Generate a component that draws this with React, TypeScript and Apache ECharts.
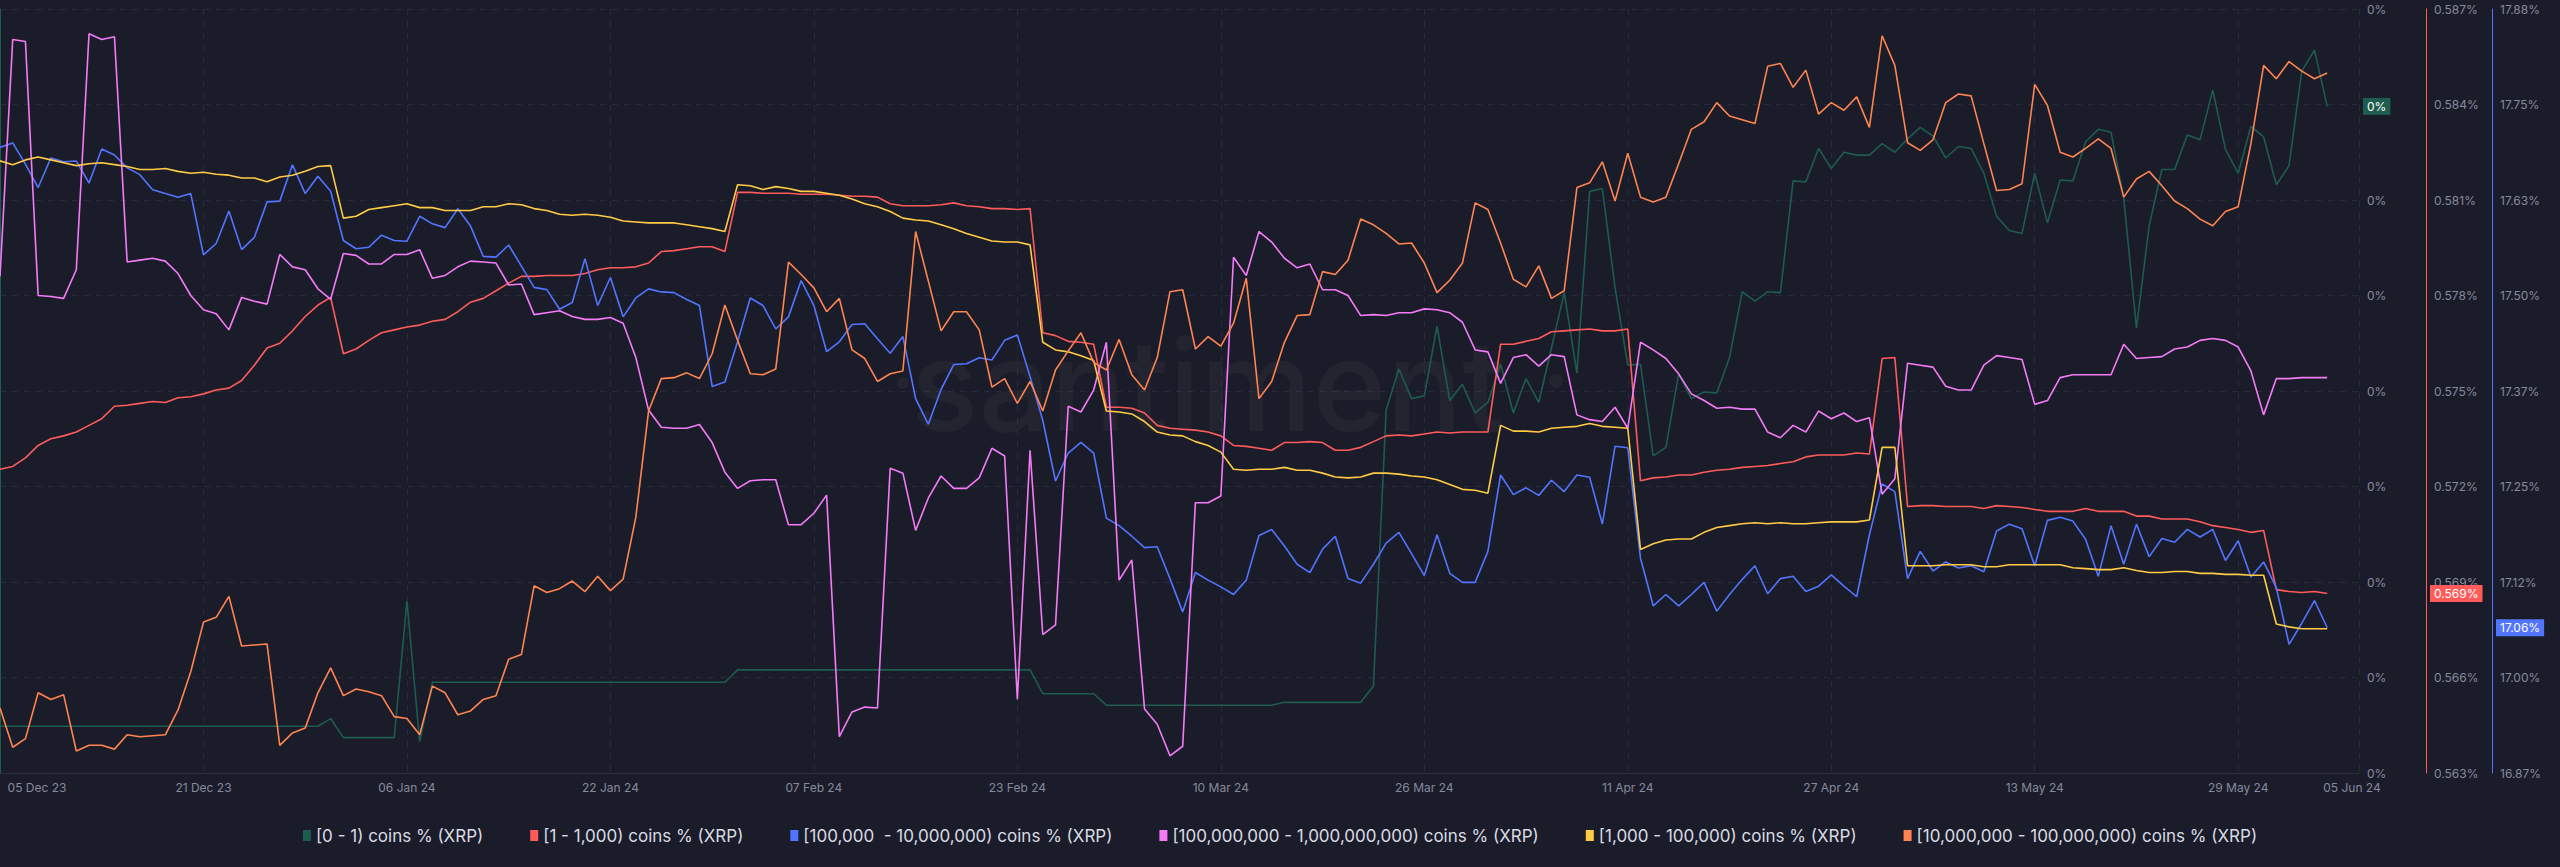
import React, { useEffect, useRef } from "react";
import * as echarts from "echarts";

// ---------- data (one point per day, 05 Dec 23 .. 05 Jun 24) ----------
const tickLabels = ["05 Dec 23", "21 Dec 23", "06 Jan 24", "22 Jan 24", "07 Feb 24", "23 Feb 24", "10 Mar 24", "26 Mar 24", "11 Apr 24", "27 Apr 24", "13 May 24", "29 May 24", "05 Jun 24"];
const tickDays = [0, 16, 32, 48, 64, 80, 96, 112, 128, 144, 160, 176, 183];
const LAST_DAY = 183;

const seriesNames = [
  "[0 - 1) coins % (XRP)",
  "[1 - 1,000) coins % (XRP)",
  "[100,000  - 10,000,000) coins % (XRP)",
  "[100,000,000 - 1,000,000,000) coins % (XRP)",
  "[1,000 - 100,000) coins % (XRP)",
  "[10,000,000 - 100,000,000) coins % (XRP)",
];

const coins0to1 = [
  0.0049, 0.0049, 0.0049, 0.0049, 0.0049, 0.0049, 0.0049, 0.0049,
  0.0049, 0.0049, 0.0049, 0.0049, 0.0049, 0.0049, 0.0049, 0.0049,
  0.0049, 0.0049, 0.0049, 0.0049, 0.0049, 0.0049, 0.0049, 0.0049,
  0.0049, 0.0049, 0.0057, 0.0037, 0.0037, 0.0037, 0.0037, 0.0037,
  0.0180, 0.0033, 0.0095, 0.0095, 0.0095, 0.0095, 0.0095, 0.0095,
  0.0095, 0.0095, 0.0095, 0.0095, 0.0095, 0.0095, 0.0095, 0.0095,
  0.0095, 0.0095, 0.0095, 0.0095, 0.0095, 0.0095, 0.0095, 0.0095,
  0.0095, 0.0095, 0.0108, 0.0108, 0.0108, 0.0108, 0.0108, 0.0108,
  0.0108, 0.0108, 0.0108, 0.0108, 0.0108, 0.0108, 0.0108, 0.0108,
  0.0108, 0.0108, 0.0108, 0.0108, 0.0108, 0.0108, 0.0108, 0.0108,
  0.0108, 0.0108, 0.0083, 0.0083, 0.0083, 0.0083, 0.0083, 0.0071,
  0.0071, 0.0071, 0.0071, 0.0071, 0.0071, 0.0071, 0.0071, 0.0071,
  0.0071, 0.0071, 0.0071, 0.0071, 0.0071, 0.0074, 0.0074, 0.0074,
  0.0074, 0.0074, 0.0074, 0.0074, 0.0091, 0.0380, 0.0423, 0.0392,
  0.0395, 0.0468, 0.0390, 0.0407, 0.0377, 0.0388, 0.0428, 0.0377,
  0.0413, 0.0388, 0.0445, 0.0503, 0.0419, 0.0609, 0.0612, 0.0508,
  0.0427, 0.0428, 0.0332, 0.0341, 0.0418, 0.0392, 0.0399, 0.0398,
  0.0435, 0.0504, 0.0494, 0.0504, 0.0503, 0.0620, 0.0619, 0.0654,
  0.0633, 0.0650, 0.0647, 0.0647, 0.0659, 0.0650, 0.0664, 0.0676,
  0.0667, 0.0644, 0.0656, 0.0654, 0.0628, 0.0583, 0.0568, 0.0565,
  0.0628, 0.0576, 0.0621, 0.0620, 0.0661, 0.0674, 0.0671, 0.0602,
  0.0466, 0.0573, 0.0632, 0.0632, 0.0668, 0.0663, 0.0715, 0.0653,
  0.0628, 0.0677, 0.0666, 0.0616, 0.0636, 0.0735, 0.0757, 0.0698,
];

const coins1to1k = [
  0.57254, 0.57263, 0.57290, 0.57329, 0.57350, 0.57359, 0.57371, 0.57392,
  0.57413, 0.57452, 0.57455, 0.57461, 0.57467, 0.57464, 0.57479, 0.57482,
  0.57491, 0.57503, 0.57509, 0.57533, 0.57581, 0.57635, 0.57650, 0.57689,
  0.57734, 0.57770, 0.57794, 0.57617, 0.57632, 0.57659, 0.57683, 0.57692,
  0.57701, 0.57707, 0.57719, 0.57725, 0.57749, 0.57779, 0.57791, 0.57815,
  0.57839, 0.57860, 0.57860, 0.57863, 0.57863, 0.57863, 0.57869, 0.57881,
  0.57887, 0.57887, 0.57890, 0.57902, 0.57938, 0.57941, 0.57947, 0.57953,
  0.57953, 0.57938, 0.58124, 0.58124, 0.58121, 0.58121, 0.58121, 0.58118,
  0.58118, 0.58118, 0.58115, 0.58112, 0.58112, 0.58109, 0.58088, 0.58082,
  0.58082, 0.58082, 0.58085, 0.58091, 0.58082, 0.58079, 0.58073, 0.58073,
  0.58070, 0.58073, 0.57683, 0.57674, 0.57656, 0.57653, 0.57647, 0.57449,
  0.57449, 0.57446, 0.57431, 0.57392, 0.57383, 0.57380, 0.57377, 0.57371,
  0.57359, 0.57329, 0.57326, 0.57320, 0.57314, 0.57338, 0.57338, 0.57341,
  0.57338, 0.57314, 0.57314, 0.57323, 0.57341, 0.57359, 0.57362, 0.57359,
  0.57365, 0.57371, 0.57368, 0.57371, 0.57371, 0.57371, 0.57647, 0.57647,
  0.57656, 0.57665, 0.57686, 0.57689, 0.57692, 0.57695, 0.57689, 0.57689,
  0.57695, 0.57218, 0.57227, 0.57230, 0.57236, 0.57236, 0.57245, 0.57251,
  0.57254, 0.57260, 0.57263, 0.57266, 0.57272, 0.57278, 0.57293, 0.57299,
  0.57299, 0.57299, 0.57305, 0.57302, 0.57602, 0.57605, 0.57137, 0.57140,
  0.57140, 0.57137, 0.57137, 0.57137, 0.57131, 0.57140, 0.57137, 0.57134,
  0.57128, 0.57122, 0.57122, 0.57122, 0.57131, 0.57122, 0.57122, 0.57122,
  0.57107, 0.57107, 0.57098, 0.57098, 0.57098, 0.57089, 0.57077, 0.57071,
  0.57065, 0.57056, 0.57062, 0.56876, 0.56870, 0.56867, 0.56870, 0.56864,
];

const coins100kto10m = [
  17.696, 17.702, 17.674, 17.643, 17.682, 17.677, 17.678, 17.649,
  17.694, 17.686, 17.669, 17.660, 17.640, 17.635, 17.630, 17.635,
  17.554, 17.569, 17.612, 17.561, 17.577, 17.624, 17.625, 17.673,
  17.635, 17.658, 17.638, 17.573, 17.562, 17.564, 17.580, 17.573,
  17.572, 17.605, 17.595, 17.590, 17.615, 17.592, 17.552, 17.551,
  17.567, 17.539, 17.511, 17.508, 17.482, 17.491, 17.549, 17.487,
  17.524, 17.472, 17.497, 17.509, 17.505, 17.504, 17.495, 17.487,
  17.380, 17.386, 17.439, 17.497, 17.487, 17.456, 17.472, 17.520,
  17.487, 17.426, 17.439, 17.462, 17.463, 17.443, 17.424, 17.446,
  17.364, 17.330, 17.376, 17.409, 17.410, 17.418, 17.415, 17.441,
  17.448, 17.393, 17.335, 17.255, 17.292, 17.306, 17.292, 17.206,
  17.196, 17.182, 17.167, 17.168, 17.126, 17.082, 17.134, 17.124,
  17.115, 17.105, 17.124, 17.183, 17.191, 17.169, 17.145, 17.134,
  17.165, 17.182, 17.126, 17.120, 17.145, 17.173, 17.187, 17.159,
  17.130, 17.184, 17.133, 17.121, 17.121, 17.162, 17.263, 17.237,
  17.246, 17.236, 17.256, 17.241, 17.263, 17.260, 17.198, 17.301,
  17.299, 17.153, 17.090, 17.105, 17.090, 17.105, 17.121, 17.083,
  17.105, 17.125, 17.143, 17.106, 17.126, 17.129, 17.109, 17.116,
  17.131, 17.116, 17.102, 17.184, 17.251, 17.241, 17.126, 17.162,
  17.136, 17.148, 17.140, 17.143, 17.135, 17.189, 17.198, 17.192,
  17.143, 17.203, 17.207, 17.202, 17.178, 17.129, 17.196, 17.145,
  17.198, 17.155, 17.179, 17.174, 17.191, 17.181, 17.191, 17.150,
  17.176, 17.128, 17.148, 17.114, 17.039, 17.067, 17.097, 17.061,
];

const coins100mto1b = [
  25.20, 27.68, 27.66, 25.00, 24.99, 24.97, 25.27, 27.74,
  27.68, 27.71, 25.35, 25.37, 25.39, 25.36, 25.23, 25.00,
  24.85, 24.81, 24.64, 24.98, 24.94, 24.91, 25.43, 25.30,
  25.27, 25.07, 24.96, 25.44, 25.42, 25.33, 25.33, 25.43,
  25.43, 25.48, 25.18, 25.21, 25.30, 25.36, 25.35, 25.34,
  25.11, 25.12, 24.80, 24.82, 24.84, 24.78, 24.75, 24.75,
  24.77, 24.71, 24.35, 23.80, 23.62, 23.61, 23.61, 23.65,
  23.46, 23.15, 22.98, 23.06, 23.07, 23.07, 22.60, 22.60,
  22.72, 22.91, 20.38, 20.64, 20.69, 20.68, 23.19, 23.14,
  22.54, 22.88, 23.11, 22.98, 22.98, 23.09, 23.40, 23.32,
  20.77, 23.38, 21.45, 21.55, 23.84, 23.78, 24.01, 24.51,
  22.02, 22.23, 20.67, 20.51, 20.18, 20.28, 22.83, 22.83,
  22.90, 25.40, 25.21, 25.67, 25.56, 25.39, 25.29, 25.33,
  25.06, 25.06, 25.00, 24.79, 24.80, 24.79, 24.82, 24.82,
  24.86, 24.85, 24.82, 24.72, 24.43, 24.41, 24.08, 24.35,
  24.38, 24.26, 24.38, 24.36, 23.75, 23.70, 23.68, 23.83,
  23.61, 24.51, 24.43, 24.34, 24.18, 23.97, 23.90, 23.82,
  23.83, 23.81, 23.81, 23.57, 23.51, 23.64, 23.57, 23.79,
  23.71, 23.77, 23.68, 23.72, 22.92, 23.08, 24.29, 24.27,
  24.25, 24.05, 24.01, 24.01, 24.27, 24.37, 24.35, 24.33,
  23.86, 23.90, 24.14, 24.17, 24.17, 24.17, 24.17, 24.49,
  24.34, 24.35, 24.36, 24.44, 24.46, 24.53, 24.55, 24.53,
  24.46, 24.21, 23.75, 24.13, 24.13, 24.14, 24.14, 24.14,
];

const coins1kto100k = [
  8.41, 8.37, 8.42, 8.45, 8.42, 8.39, 8.36, 8.38,
  8.39, 8.37, 8.35, 8.32, 8.32, 8.33, 8.30, 8.28,
  8.29, 8.27, 8.26, 8.23, 8.23, 8.19, 8.24, 8.26,
  8.30, 8.35, 8.36, 7.81, 7.83, 7.90, 7.92, 7.94,
  7.96, 7.92, 7.92, 7.89, 7.89, 7.89, 7.93, 7.93,
  7.96, 7.95, 7.91, 7.89, 7.85, 7.84, 7.85, 7.84,
  7.82, 7.78, 7.77, 7.76, 7.76, 7.76, 7.74, 7.72,
  7.70, 7.67, 8.16, 8.15, 8.11, 8.14, 8.12, 8.09,
  8.09, 8.07, 8.05, 8.01, 7.96, 7.93, 7.88, 7.81,
  7.79, 7.78, 7.74, 7.70, 7.65, 7.61, 7.57, 7.56,
  7.56, 7.53, 6.51, 6.43, 6.41, 6.37, 6.32, 5.79,
  5.78, 5.76, 5.68, 5.57, 5.54, 5.53, 5.47, 5.43,
  5.36, 5.18, 5.17, 5.18, 5.18, 5.20, 5.17, 5.17,
  5.14, 5.10, 5.09, 5.10, 5.14, 5.14, 5.13, 5.11,
  5.10, 5.07, 5.02, 4.97, 4.96, 4.93, 5.64, 5.58,
  5.58, 5.57, 5.61, 5.62, 5.63, 5.66, 5.63, 5.62,
  5.61, 4.34, 4.40, 4.44, 4.45, 4.45, 4.52, 4.57,
  4.59, 4.61, 4.62, 4.61, 4.62, 4.61, 4.61, 4.62,
  4.63, 4.63, 4.63, 4.65, 5.41, 5.41, 4.17, 4.17,
  4.17, 4.18, 4.18, 4.18, 4.16, 4.16, 4.18, 4.18,
  4.18, 4.18, 4.18, 4.15, 4.14, 4.13, 4.13, 4.15,
  4.12, 4.10, 4.10, 4.11, 4.11, 4.09, 4.09, 4.08,
  4.08, 4.07, 4.07, 3.56, 3.53, 3.51, 3.51, 3.51,
];

const coins10mto100m = [
  10.68, 10.27, 10.36, 10.84, 10.77, 10.82, 10.23, 10.29,
  10.29, 10.25, 10.40, 10.38, 10.39, 10.40, 10.66, 11.06,
  11.58, 11.63, 11.85, 11.33, 11.34, 11.35, 10.29, 10.42,
  10.47, 10.84, 11.10, 10.81, 10.88, 10.85, 10.81, 10.59,
  10.57, 10.40, 10.91, 10.84, 10.61, 10.65, 10.77, 10.81,
  11.19, 11.24, 11.96, 11.89, 11.93, 12.01, 11.90, 12.06,
  11.91, 12.03, 12.68, 13.79, 14.13, 14.14, 14.19, 14.13,
  14.39, 14.90, 14.53, 14.18, 14.17, 14.23, 15.35, 15.22,
  15.08, 14.83, 14.97, 14.43, 14.34, 14.10, 14.18, 14.21,
  15.67, 15.15, 14.63, 14.83, 14.83, 14.64, 14.04, 14.13,
  13.87, 14.10, 13.79, 14.22, 14.42, 14.61, 14.30, 14.22,
  14.54, 14.17, 14.01, 14.35, 15.04, 15.06, 14.44, 14.57,
  14.47, 14.71, 15.18, 13.92, 14.10, 14.51, 14.79, 14.80,
  15.25, 15.22, 15.37, 15.80, 15.74, 15.65, 15.54, 15.55,
  15.34, 15.03, 15.16, 15.34, 15.97, 15.90, 15.55, 15.17,
  15.09, 15.31, 14.97, 15.05, 16.13, 16.18, 16.40, 15.99,
  16.49, 16.03, 15.98, 16.03, 16.38, 16.74, 16.82, 17.02,
  16.88, 16.84, 16.80, 17.40, 17.43, 17.18, 17.36, 16.90,
  17.02, 16.94, 17.08, 16.76, 17.72, 17.41, 16.60, 16.52,
  16.63, 17.02, 17.11, 17.09, 16.59, 16.10, 16.11, 16.17,
  17.21, 16.99, 16.50, 16.45, 16.54, 16.64, 16.54, 16.03,
  16.22, 16.30, 16.15, 15.99, 15.91, 15.80, 15.73, 15.88,
  15.93, 16.59, 17.41, 17.27, 17.45, 17.35, 17.27, 17.33,
];

// ---------- styling ----------
const BG = "#1b1c29";
const GRID = "#272a3b";
const LABEL = "#858a9d";
const COLORS = ["#1d5c4e", "#ff5b5b", "#5275ff", "#f47bf7", "#ffcb47", "#ff8450"];
const FONT = "Inter, 'Noto Sans', sans-serif";

export default function App() {
  const ref = useRef<HTMLDivElement>(null);

  useEffect(() => {
    const el = ref.current;
    if (!el) return;
    const chart = echarts.init(el, null, { renderer: "svg" });

    const valueSets = [coins0to1, coins1to1k, coins100kto10m, coins100mto1b, coins1kto100k, coins10mto100m];

    const hiddenAxis = (min: number, max: number) => ({
      type: "value",
      show: false,
      min,
      max,
      splitLine: { show: false },
    });

    const visibleAxis = (offset: number, color: string, min: number, max: number, fmt: (v: number) => string, extra: any = {}) => ({
      type: "value",
      position: "right",
      offset,
      min,
      max,
      axisLine: { show: true, lineStyle: { color, width: 1 } },
      axisTick: { show: false },
      axisLabel: { color: LABEL, fontSize: 12, fontFamily: FONT, margin: 8, formatter: fmt },
      splitLine: { show: false },
      ...extra,
    });

    const option: any = {
      animation: false,
      backgroundColor: BG,
      textStyle: { fontFamily: FONT },
      grid: { left: 0, right: 201, top: 9, bottom: 94 },
      legend: {
        data: seriesNames,
        top: 822,
        left: "center",
        icon: "rect",
        itemWidth: 8,
        itemHeight: 11,
        itemGap: 47,
        selectedMode: false,
        textStyle: { color: "#d8dbe4", fontSize: 17, fontFamily: FONT },
      },
      xAxis: {
        type: "value",
        min: 0,
        max: 185.5,
        interval: 16,
        axisLine: { show: true, lineStyle: { color: "#2c2f42" } },
        axisTick: { show: false },
        splitLine: { show: true, lineStyle: { color: GRID, type: [6, 6] } },
        axisLabel: {
          color: LABEL,
          fontSize: 12,
          fontFamily: FONT,
          margin: 8,
          formatter: (v: number) => {
            const k = tickDays.indexOf(v);
            if (k === 0) return `{first|${tickLabels[0]}}`;
            if (k > 0 && tickDays[k] !== LAST_DAY) return tickLabels[k];
            return "";
          },
          rich: {
            first: { color: LABEL, fontSize: 12, fontFamily: FONT, padding: [0, 0, 0, 74] },
          },
        },
      },
      yAxis: [
        visibleAxis(0, COLORS[0], 0, 0.08, (v) => `${Math.round(v)}%`, {
          interval: 0.01,
          splitLine: { show: true, lineStyle: { color: GRID, type: [6, 6] } },
        }),
        visibleAxis(67, COLORS[1], 0.563, 0.587, (v) => `${v.toFixed(3)}%`, { alignTicks: true }),
        visibleAxis(133, COLORS[2], 16.869, 17.879, (v) => `${v.toFixed(2)}%`, { alignTicks: true }),
        hiddenAxis(20, 28),
        hiddenAxis(2, 10),
        hiddenAxis(10, 18),
      ],
      series: seriesNames.map((name, s) => ({
        name,
        type: "line",
        yAxisIndex: s,
        data: valueSets[s].map((v, i) => [i, v]),
        symbol: "none",
        showSymbol: false,
        lineStyle: { color: COLORS[s], width: 1.6 },
        itemStyle: { color: COLORS[s] },
        emphasis: { disabled: true },
        z: 2 + s,
      })),
    };

    chart.setOption(option);

    const px = (v: number) => chart.convertToPixel({ xAxisIndex: 0 }, v) as number;
    const py = (axis: number, v: number) => chart.convertToPixel({ yAxisIndex: axis }, v) as number;
    const rightEdge = px(185.5);
    const bottomEdge = py(0, 0);
    const axisOffsets = [0, 67, 133];
    const lastTexts = [
      `${Math.round(coins0to1[LAST_DAY])}%`,
      `${coins1to1k[LAST_DAY].toFixed(3)}%`,
      `${coins100kto10m[LAST_DAY].toFixed(2)}%`,
    ];

    const boxes = [0, 1, 2].map((a) => ({
      type: "text",
      z: 100,
      x: rightEdge + axisOffsets[a] + 4,
      y: py(a, valueSets[a][LAST_DAY]),
      style: {
        text: lastTexts[a],
        fill: "#ffffff",
        fontSize: 12,
        fontFamily: FONT,
        backgroundColor: COLORS[a],
        padding: [3, 4, 2, 4],
        align: "left",
        verticalAlign: "middle",
      },
    }));

    chart.setOption({
      graphic: [
        {
          type: "text",
          z: 0,
          silent: true,
          x: 1208,
          y: 385,
          style: {
            text: "santiment",
            fill: "rgba(255,255,255,0.035)",
            fontSize: 126,
            fontWeight: 500,
            fontFamily: FONT,
            align: "center",
            verticalAlign: "middle",
          },
        },
        { type: "circle", z: 0, silent: true, shape: { cx: 903, cy: 383, r: 6 }, style: { fill: "rgba(255,255,255,0.035)" } },
        { type: "circle", z: 0, silent: true, shape: { cx: 1556, cy: 381, r: 7 }, style: { fill: "rgba(255,255,255,0.035)" } },
        {
          type: "text",
          z: 10,
          x: px(LAST_DAY) - 4,
          y: bottomEdge + 8,
          style: {
            text: tickLabels[tickLabels.length - 1],
            fill: LABEL,
            fontSize: 12,
            fontFamily: FONT,
            align: "left",
            verticalAlign: "top",
          },
        },
        ...boxes,
      ],
    });

    return () => chart.dispose();
  }, []);

  return (
    <div
      ref={ref}
      style={{ position: "fixed", left: 0, top: 0, width: 2560, height: 867, background: BG }}
    />
  );
}
